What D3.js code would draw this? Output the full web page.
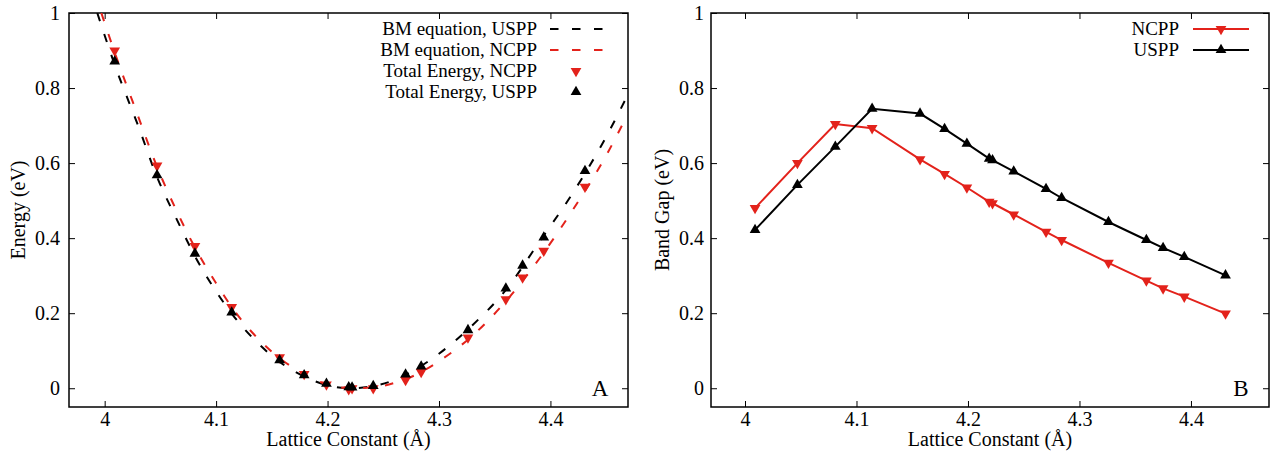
<!DOCTYPE html>
<html><head><meta charset="utf-8">
<script src="https://cdn.jsdelivr.net/npm/d3@7"></script>
<style>
html,body{margin:0;padding:0;background:#fff;}
svg text{font-family:"Liberation Serif","Times New Roman",serif;fill:#000;}
</style></head>
<body><svg id="c" width="1271" height="451"></svg>
<script>
// ---------- data ----------
const latticeConst = [4.009, 4.047, 4.081, 4.114, 4.157, 4.179, 4.199, 4.219, 4.222, 4.241, 4.270, 4.284, 4.326, 4.360, 4.375, 4.394, 4.431];
const energyNCPP  = [0.900, 0.593, 0.379, 0.216, 0.082, 0.038, 0.010, -0.003, 0.000, 0.000, 0.022, 0.043, 0.135, 0.237, 0.295, 0.366, 0.537];
const energyUSPP  = [0.871, 0.568, 0.359, 0.202, 0.075, 0.035, 0.012, 0.003, 0.002, 0.006, 0.037, 0.058, 0.155, 0.266, 0.327, 0.402, 0.579];
const bmUSPPx = [3.9934, 4.009, 4.03, 4.047, 4.065, 4.081, 4.1, 4.115, 4.14, 4.158, 4.18, 4.2, 4.22, 4.24, 4.26, 4.28, 4.3, 4.33, 4.36, 4.39, 4.42, 4.45, 4.4696];
const bmUSPPy = [1.0, 0.862, 0.700, 0.563, 0.448, 0.352, 0.258, 0.195, 0.113, 0.068, 0.030, 0.008, 0.000, 0.005, 0.022, 0.052, 0.092, 0.168, 0.262, 0.390, 0.520, 0.670, 0.783];
const bmNCPPx = [3.997, 4.009, 4.03, 4.047, 4.065, 4.081, 4.1, 4.115, 4.14, 4.158, 4.18, 4.2, 4.22, 4.24, 4.26, 4.28, 4.3, 4.33, 4.36, 4.39, 4.42, 4.45, 4.4696];
const bmNCPPy = [1.0, 0.895, 0.725, 0.590, 0.470, 0.375, 0.280, 0.212, 0.125, 0.078, 0.036, 0.010, 0.000, 0.002, 0.014, 0.037, 0.072, 0.140, 0.232, 0.345, 0.475, 0.620, 0.732];
const gapNCPP = [0.480, 0.600, 0.704, 0.693, 0.610, 0.571, 0.535, 0.497, 0.493, 0.463, 0.417, 0.395, 0.334, 0.287, 0.266, 0.244, 0.199];
const gapUSPP = [0.422, 0.542, 0.644, 0.745, 0.732, 0.691, 0.652, 0.612, 0.608, 0.578, 0.531, 0.507, 0.443, 0.395, 0.374, 0.350, 0.301];
const xTicks = [4.0, 4.1, 4.2, 4.3, 4.4];
const xTickLabels = ["4", "4.1", "4.2", "4.3", "4.4"];
const yTicks = [0, 0.2, 0.4, 0.6, 0.8, 1];
const yTickLabels = ["0", "0.2", "0.4", "0.6", "0.8", "1"];
const legendA = ["BM equation, USPP", "BM equation, NCPP", "Total Energy, NCPP", "Total Energy, USPP"];
const legendB = ["NCPP", "USPP"];

// ---------- style ----------
const RED = "#e3221b", BLACK = "#000";
const FS = 20, LFS = 19;
const svg = d3.select("#c");

function panel(cfg){
  const x = d3.scaleLinear().domain(cfg.xd).range([cfg.l, cfg.r]);
  const y = d3.scaleLinear().domain([-0.05, 1]).range([cfg.b, cfg.t]);
  const g = svg.append("g");
  const clipId = "clip" + cfg.id;
  svg.append("clipPath").attr("id", clipId).append("rect")
    .attr("x", cfg.l).attr("y", cfg.t).attr("width", cfg.r - cfg.l).attr("height", cfg.b - cfg.t);

  const xi = d3.scaleOrdinal().domain(xTicks).range(xTickLabels);
  const yi = d3.scaleOrdinal().domain(yTicks).range(yTickLabels);
  const ab = g.append("g").attr("transform", `translate(0,${cfg.b})`)
    .call(d3.axisBottom(x).tickValues(xTicks).tickFormat(d => xi(d)).tickSizeInner(-6).tickSizeOuter(0).tickPadding(5));
  const at = g.append("g").attr("transform", `translate(0,${cfg.t})`)
    .call(d3.axisTop(x).tickValues(xTicks).tickFormat("").tickSizeInner(-6).tickSizeOuter(0));
  const al = g.append("g").attr("transform", `translate(${cfg.l},0)`)
    .call(d3.axisLeft(y).tickValues(yTicks).tickFormat(d => yi(d)).tickSizeInner(-6).tickSizeOuter(0).tickPadding(cfg.yPad));
  const ar = g.append("g").attr("transform", `translate(${cfg.r},0)`)
    .call(d3.axisRight(y).tickValues(yTicks).tickFormat("").tickSizeInner(-6).tickSizeOuter(0));
  [ab, at, al, ar].forEach(a => {
    a.select(".domain").remove();
    a.selectAll("line").attr("stroke", "#000").attr("stroke-width", 1);
    a.selectAll("text").attr("font-family", "Liberation Serif").attr("font-size", FS).attr("fill", "#000");
  });
  g.append("rect").attr("x", cfg.l).attr("y", cfg.t).attr("width", cfg.r - cfg.l).attr("height", cfg.b - cfg.t)
    .attr("fill", "none").attr("stroke", "#000").attr("stroke-width", 1.5);

  g.append("text").attr("x", (cfg.l + cfg.r) / 2).attr("y", 446).attr("text-anchor", "middle")
    .attr("font-size", FS).text("Lattice Constant (Å)");
  g.append("text").attr("transform", `translate(${cfg.yTitleX},${(cfg.t + cfg.b) / 2}) rotate(-90)`)
    .attr("text-anchor", "middle").attr("dy", "0.33em").attr("font-size", FS).text(cfg.yTitle);
  g.append("text").attr("x", cfg.r - 28).attr("y", 396).attr("text-anchor", "middle")
    .attr("font-size", 23).text(cfg.letter);
  return {x, y, g, clip: `url(#${clipId})`};
}

const tri = d3.symbol().type(d3.symbolTriangle).size(50);

// ---------- Panel A ----------
const A = panel({id: "A", l: 69, r: 628, t: 13, b: 407, xd: [3.968, 4.4696], yPad: 9, yTitleX: 18, yTitle: "Energy (eV)", letter: "A"});
const curve = d3.line().x(d => A.x(d[0])).y(d => A.y(d[1])).curve(d3.curveMonotoneX);
A.g.append("path").datum(d3.zip(bmUSPPx, bmUSPPy)).attr("d", curve).attr("clip-path", A.clip)
  .attr("fill", "none").attr("stroke", BLACK).attr("stroke-width", 2).attr("stroke-dasharray", "8.5,13.5");
A.g.append("path").datum(d3.zip(bmNCPPx, bmNCPPy)).attr("d", curve).attr("clip-path", A.clip)
  .attr("fill", "none").attr("stroke", RED).attr("stroke-width", 2).attr("stroke-dasharray", "8.5,13.5");
A.g.append("g").selectAll("path").data(d3.zip(latticeConst, energyNCPP)).join("path")
  .attr("d", tri).attr("fill", RED)
  .attr("transform", d => `translate(${A.x(d[0])},${A.y(d[1])}) rotate(180)`);
A.g.append("g").selectAll("path").data(d3.zip(latticeConst, energyUSPP)).join("path")
  .attr("d", tri).attr("fill", BLACK)
  .attr("transform", d => `translate(${A.x(d[0])},${A.y(d[1])})`);
const legARows = [29, 50, 71, 92];
legendA.forEach((t, i) => {
  A.g.append("text").attr("x", 537).attr("y", legARows[i]).attr("dy", "0.33em").attr("text-anchor", "end")
    .attr("font-size", LFS).text(t);
});
A.g.append("line").attr("x1", 550).attr("x2", 604).attr("y1", legARows[0]).attr("y2", legARows[0])
  .attr("stroke", BLACK).attr("stroke-width", 2).attr("stroke-dasharray", "8.5,13.5");
A.g.append("line").attr("x1", 550).attr("x2", 604).attr("y1", legARows[1]).attr("y2", legARows[1])
  .attr("stroke", RED).attr("stroke-width", 2).attr("stroke-dasharray", "8.5,13.5");
A.g.append("path").attr("d", tri).attr("fill", RED).attr("transform", `translate(576,${legARows[2]}) rotate(180)`);
A.g.append("path").attr("d", tri).attr("fill", BLACK).attr("transform", `translate(576,${legARows[3]})`);

// ---------- Panel B ----------
const B = panel({id: "B", l: 711, r: 1269, t: 13, b: 407, xd: [3.9695, 4.470], yPad: 7, yTitleX: 662, yTitle: "Band Gap (eV)", letter: "B"});
const line = d3.line().x(d => B.x(d[0])).y(d => B.y(d[1]));
B.g.append("path").datum(d3.zip(latticeConst, gapNCPP)).attr("d", line)
  .attr("fill", "none").attr("stroke", RED).attr("stroke-width", 2);
B.g.append("path").datum(d3.zip(latticeConst, gapUSPP)).attr("d", line)
  .attr("fill", "none").attr("stroke", BLACK).attr("stroke-width", 2);
B.g.append("g").selectAll("path").data(d3.zip(latticeConst, gapNCPP)).join("path")
  .attr("d", tri).attr("fill", RED)
  .attr("transform", d => `translate(${B.x(d[0])},${B.y(d[1])}) rotate(180)`);
B.g.append("g").selectAll("path").data(d3.zip(latticeConst, gapUSPP)).join("path")
  .attr("d", tri).attr("fill", BLACK)
  .attr("transform", d => `translate(${B.x(d[0])},${B.y(d[1])})`);
const legBRows = [29, 50];
const legBColors = [RED, BLACK];
legendB.forEach((t, i) => {
  B.g.append("text").attr("x", 1179).attr("y", legBRows[i]).attr("dy", "0.33em").attr("text-anchor", "end")
    .attr("font-size", LFS).text(t);
  B.g.append("line").attr("x1", 1193).attr("x2", 1249).attr("y1", legBRows[i]).attr("y2", legBRows[i])
    .attr("stroke", legBColors[i]).attr("stroke-width", 2);
  B.g.append("path").attr("d", tri).attr("fill", legBColors[i])
    .attr("transform", `translate(1221,${legBRows[i]})${i === 0 ? " rotate(180)" : ""}`);
});
</script></body></html>
